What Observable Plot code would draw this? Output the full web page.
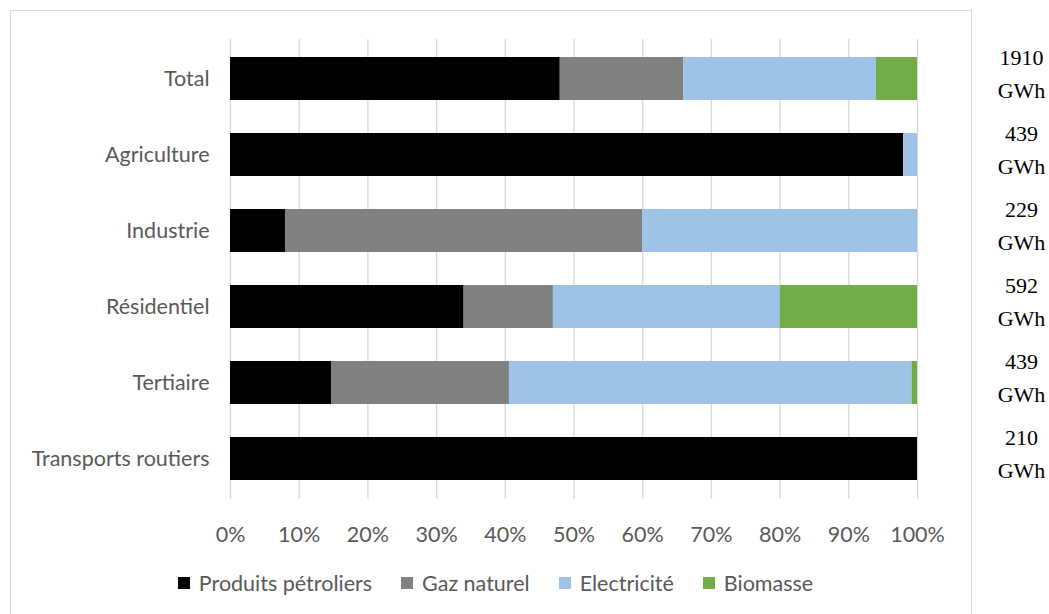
<!DOCTYPE html>
<html>
<head>
<meta charset="utf-8">
<script src="https://cdn.jsdelivr.net/npm/d3@7"></script>
<script src="https://cdn.jsdelivr.net/npm/@observablehq/plot@0.6"></script>
<style>
  html, body { margin: 0; padding: 0; background: #fff; overflow: hidden; }
  #wrap { position: relative; width: 1049px; height: 614px; overflow: hidden; }
  #frame { position: absolute; left: 10px; top: 10px; width: 962px; height: 700px; border: 1px solid #d9d9d9; box-sizing: border-box; pointer-events: none; }
  #legend { position: absolute; top: 570px; left: 0; width: 991px; display: flex; justify-content: center; gap: 29px;
            font-family: Lato, "Open Sans", sans-serif; font-size: 21.5px; color: #595959; }
  #legend .item { display: flex; align-items: center; gap: 9px; }
  #legend .sw { width: 12px; height: 12px; display: inline-block; }
</style>
</head>
<body>
<div id="wrap">
  <div id="frame"></div>
  <div id="chart"></div>
  <div id="legend"></div>
</div>
<script>
// Secteurs (de haut en bas)
const categories = ["Total", "Agriculture", "Industrie", "Résidentiel", "Tertiaire", "Transports routiers"];
// Part de chaque énergie dans la consommation du secteur (%)
const produitsPetroliers = [48, 98, 8, 34, 14.7, 100];
const gazNaturel        = [18, 0, 52, 13, 25.9, 0];
const electricite       = [28, 2, 40, 33, 58.6, 0];
const biomasse          = [6, 0, 0, 20, 0.8, 0];
// Consommation totale du secteur
const consommationGWh   = [1910, 439, 229, 592, 439, 210];

const energies = ["Produits pétroliers", "Gaz naturel", "Electricité", "Biomasse"];
const couleurs = ["#000000", "#808080", "#9dc3e6", "#70ad47"];
const xTicks = [0, 10, 20, 30, 40, 50, 60, 70, 80, 90, 100];

const series = [produitsPetroliers, gazNaturel, electricite, biomasse];
const rows = [];
categories.forEach((c, i) => {
  series.forEach((s, k) => rows.push({secteur: c, energie: energies[k], part: s[i]}));
});
const totals = categories.map((c, i) => ({secteur: c, label: `${consommationGWh[i]}\nGWh`}));

const chart = Plot.plot({
  width: 1049,
  height: 614,
  marginLeft: 230,
  marginRight: 132,
  marginTop: 39,
  marginBottom: 115,
  style: {fontFamily: "Lato, 'Open Sans', sans-serif", fontSize: "21.5px", color: "#595959", background: "transparent"},
  x: {domain: [0, 100], ticks: xTicks, tickFormat: d => d + "%", tickSize: 0, tickPadding: 27, label: null},
  y: {domain: categories, paddingInner: 0.43, paddingOuter: 0.215, tickSize: 0, tickPadding: 21, label: null},
  color: {domain: energies, range: couleurs},
  marks: [
    Plot.gridX(xTicks, {stroke: "#d9d9d9", strokeOpacity: 1, strokeWidth: 1.3}),
    Plot.barX(rows, Plot.stackX({y: "secteur", x: "part", fill: "energie", order: energies})),
    Plot.text(totals, {
      y: "secteur", x: 100, text: "label", dx: 104, dy: -8, textAnchor: "middle",
      lineHeight: 1.5, fontFamily: "'Liberation Serif', 'Times New Roman', serif",
      fontSize: 22, fill: "#000"
    })
  ]
});
document.getElementById("chart").appendChild(chart);

const legend = document.getElementById("legend");
energies.forEach((e, k) => {
  const item = document.createElement("span");
  item.className = "item";
  const sw = document.createElement("span");
  sw.className = "sw";
  sw.style.background = couleurs[k];
  const t = document.createElement("span");
  t.textContent = e;
  item.appendChild(sw);
  item.appendChild(t);
  legend.appendChild(item);
});
</script>
</body>
</html>
